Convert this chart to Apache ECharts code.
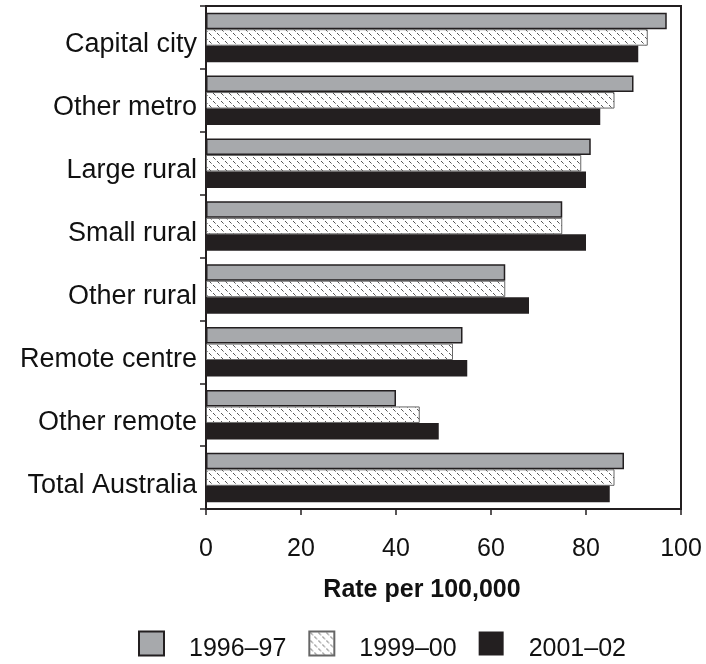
<!DOCTYPE html>
<html>
<head>
<meta charset="utf-8">
<script src="https://cdn.jsdelivr.net/npm/echarts@6/dist/echarts.min.js"></script>
<style>html,body{margin:0;padding:0;background:#fff}#c{width:706px;height:664px}</style>
</head>
<body>
<div id="c"></div>
<script>
var categories = ['Capital city', 'Other metro', 'Large rural', 'Small rural', 'Other rural', 'Remote centre', 'Other remote', 'Total Australia'];
var seriesNames = ['1996\u201397', '1999\u201300', '2001\u201302'];
var values1996 = [97, 90, 81, 75, 63, 54, 40, 88];
var values1999 = [93, 86, 79, 75, 63, 52, 45, 86];
var values2001 = [91, 83, 80, 80, 68, 55, 49, 85];
var xTicks = [0, 20, 40, 60, 80, 100];

var FONT = "'Liberation Sans', Arial, sans-serif";
var DARK = '#231f20';

// dotted pattern tile
var tile = document.createElement('canvas');
tile.width = 8; tile.height = 8;
var g = tile.getContext('2d');
g.fillStyle = '#ffffff'; g.fillRect(0, 0, 8, 8);
g.fillStyle = '#555555';
g.fillRect(1, 1, 1, 1); g.fillRect(2, 2, 1, 1);
g.fillRect(5, 5, 1, 1); g.fillRect(6, 6, 1, 1);
g.fillStyle = '#999999';
g.fillRect(3, 3, 1, 1); g.fillRect(7, 7, 1, 1);
var patternFill = { image: tile, repeat: 'repeat' };

var chart = echarts.init(document.getElementById('c'), null, { renderer: 'canvas' });
chart.setOption({
  animation: false,
  backgroundColor: '#ffffff',
  grid: { left: 206, right: 25, top: 6, bottom: 155, show: true, borderColor: DARK, borderWidth: 2, backgroundColor: '#ffffff' },
  xAxis: {
    type: 'value', min: xTicks[0], max: xTicks[xTicks.length - 1], interval: 20,
    axisLine: { show: true, lineStyle: { color: DARK, width: 2 } },
    axisTick: { show: true, length: 6, lineStyle: { color: DARK, width: 1.5 } },
    splitLine: { show: false },
    axisLabel: { color: '#111', fontSize: 25, fontFamily: FONT, margin: 28 }
  },
  yAxis: {
    type: 'category', inverse: true, data: categories,
    axisLine: { show: true, lineStyle: { color: DARK, width: 2 } },
    axisTick: { show: true, length: 6, lineStyle: { color: DARK, width: 1.5 } },
    axisLabel: { color: '#111', fontSize: 27, fontFamily: FONT, margin: 9, verticalAlign: 'top', lineHeight: 15 }
  },
  legend: {
    left: 138, top: 625, padding: 0, itemWidth: 25, itemHeight: 24, itemGap: 22,
    icon: 'rect',
    formatter: function (n) { return '\n' + n; },
    textStyle: { color: '#111', fontSize: 25, fontFamily: FONT, lineHeight: 12, padding: [0, 0, 0, 20] },
    data: seriesNames
  },
  graphic: [{
    type: 'text', x: 422, y: 590,
    style: { text: 'Rate per 100,000', align: 'center', verticalAlign: 'middle', font: 'bold 25px ' + FONT, fill: '#111' }
  }],
  series: [
    { name: seriesNames[0], type: 'bar', data: values1996, barWidth: 16.5, barGap: '0%',
      itemStyle: { color: '#a7a9ac', borderColor: DARK, borderWidth: 1.5 } },
    { name: seriesNames[1], type: 'bar', data: values1999, barWidth: 16.5, barGap: '0%',
      itemStyle: { color: patternFill, borderColor: '#666', borderWidth: 1 } },
    { name: seriesNames[2], type: 'bar', data: values2001, barWidth: 16.5, barGap: '0%',
      itemStyle: { color: DARK } }
  ]
});
</script>
</body>
</html>
